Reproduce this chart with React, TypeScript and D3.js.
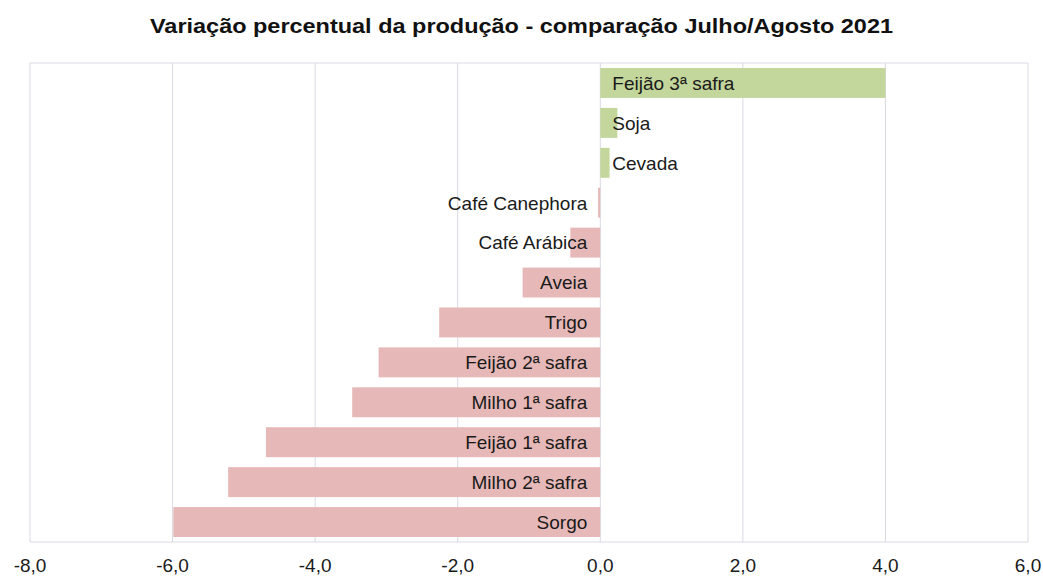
import React from "react";
import * as d3 from "d3";

const categories = [
  "Feijão 3ª safra",
  "Soja",
  "Cevada",
  "Café Canephora",
  "Café Arábica",
  "Aveia",
  "Trigo",
  "Feijão 2ª safra",
  "Milho 1ª safra",
  "Feijão 1ª safra",
  "Milho 2ª safra",
  "Sorgo",
];
const values = [4.0, 0.24, 0.13, -0.03, -0.42, -1.09, -2.26, -3.11, -3.48, -4.69, -5.22, -5.99];
const xTicks = [-8, -6, -4, -2, 0, 2, 4, 6];
const title = "Variação percentual da produção - comparação Julho/Agosto 2021";

const W = 1043;
const H = 576;
const left = 30;
const right = 1028;
const top = 63;
const bottom = 542;

export default function App() {
  const x = d3.scaleLinear().domain([-8, 6]).range([left, right]);
  const y = d3.scaleBand().domain(categories).range([top, bottom]).paddingInner(0.25).paddingOuter(0.125);
  const fmt = (v: number) => v.toFixed(1).replace(".", ",");
  const font = "Liberation Sans, Arial, sans-serif";
  return (
    <svg width={W} height={H} style={{ position: "absolute", left: 0, top: 0, background: "#fff" }} fontFamily={font}>
      <rect x={0} y={0} width={W} height={H} fill="#fff" />
      <text
        x={150}
        y={33}
        textLength={743}
        lengthAdjust="spacingAndGlyphs"
        fontSize={21}
        fontWeight="bold"
        fill="#111"
      >
        {title}
      </text>
      {xTicks.map((t) => (
        <line key={"g" + t} x1={x(t)} x2={x(t)} y1={top} y2={bottom} stroke="#d9d9e6" strokeWidth={1} />
      ))}
      <line x1={left} x2={right} y1={top} y2={top} stroke="#d9d9e6" />
      <line x1={left} x2={right} y1={bottom} y2={bottom} stroke="#d9d9e6" />
      {categories.map((c, i) => {
        const v = values[i];
        const x0 = x(Math.min(0, v));
        const x1 = x(Math.max(0, v));
        const yy = y(c)!;
        return (
          <g key={c}>
            <rect x={x0} y={yy} width={Math.max(1, x1 - x0)} height={y.bandwidth()} fill={v >= 0 ? "#c3d69b" : "#e6b9b8"} />
            <text
              x={v >= 0 ? x(0) + 12 : x(0) - 13}
              y={yy + y.bandwidth() / 2}
              dy="0.36em"
              textAnchor={v >= 0 ? "start" : "end"}
              fontSize={19}
              fill="#1a1a1a"
            >
              {c}
            </text>
          </g>
        );
      })}
      {xTicks.map((t) => (
        <text key={"t" + t} x={x(t)} y={572} textAnchor="middle" fontSize={19} fill="#1a1a1a">
          {fmt(t)}
        </text>
      ))}
    </svg>
  );
}
